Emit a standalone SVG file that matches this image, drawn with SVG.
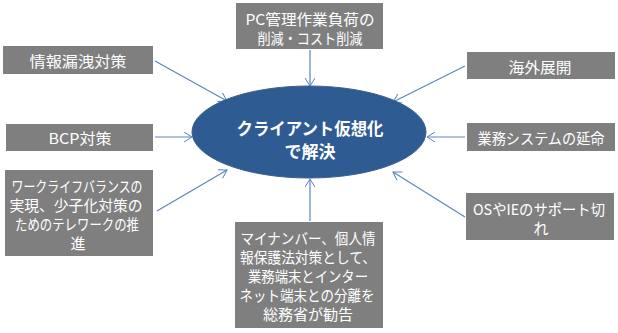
<svg xmlns="http://www.w3.org/2000/svg" width="618" height="333" viewBox="0 0 618 333">
<defs>
<marker id="ah" markerWidth="12" markerHeight="12" refX="9" refY="5" orient="auto" markerUnits="userSpaceOnUse">
<path d="M1,0 L9,5 L1,10" fill="none" stroke="#5a86c0" stroke-width="1"/>
</marker>
</defs>
<style>
.box{fill:#7f7f7f}
.t{fill:#ffffff;font-family:"Noto Sans CJK JP","Liberation Sans",sans-serif;font-size:15px;text-anchor:middle;dominant-baseline:central}
.et{fill:#ffffff;font-family:"Noto Sans CJK JP","Liberation Sans",sans-serif;font-size:17px;font-weight:bold;text-anchor:middle;dominant-baseline:central}
.c{stroke:#5a86c0;stroke-width:1.2;fill:none;marker-end:url(#ah)}
</style>
<rect width="618" height="333" fill="#ffffff"/>
<g id="connectors">
<line class="c" x1="310" y1="50" x2="310" y2="86"/>
<line class="c" x1="155" y1="61" x2="227" y2="101"/>
<line class="c" x1="155" y1="137" x2="192" y2="137"/>
<line class="c" x1="465" y1="66" x2="393" y2="102"/>
<line class="c" x1="465" y1="137" x2="427" y2="137"/>
<line class="c" x1="157" y1="211" x2="227" y2="170"/>
<line class="c" x1="310" y1="221" x2="310" y2="179"/>
<line class="c" x1="465" y1="217" x2="393" y2="172"/>
</g>
<g id="center">
<ellipse cx="309" cy="132" rx="117" ry="46" fill="#2f5b93" stroke="#3a5f8c" stroke-width="1"/>
<text class="et" x="310" y="127" textLength="147" lengthAdjust="spacingAndGlyphs">クライアント仮想化</text>
<text class="et" x="310" y="150">で解決</text>
</g>
<g id="pc">
<rect class="box" x="236" y="3" width="147" height="46"/>
<text class="t" x="310" y="18" textLength="129" lengthAdjust="spacingAndGlyphs">PC管理作業負荷の</text>
<text class="t" x="310" y="37" textLength="105" lengthAdjust="spacingAndGlyphs">削減・コスト削減</text>
</g>
<g id="joho">
<rect class="box" x="3" y="46" width="150" height="28"/>
<text class="t" x="78" y="60" textLength="97" lengthAdjust="spacingAndGlyphs">情報漏洩対策</text>
</g>
<g id="bcp">
<rect class="box" x="6" y="124" width="147" height="27"/>
<text class="t" x="80" y="137" textLength="63" lengthAdjust="spacingAndGlyphs">BCP対策</text>
</g>
<g id="kaigai">
<rect class="box" x="467" y="52" width="148" height="27"/>
<text class="t" x="540" y="66" textLength="63" lengthAdjust="spacingAndGlyphs">海外展開</text>
</g>
<g id="gyomu">
<rect class="box" x="467" y="123" width="148" height="28"/>
<text class="t" x="541" y="137" textLength="127" lengthAdjust="spacingAndGlyphs">業務システムの延命</text>
</g>
<g id="worklife">
<rect class="box" x="5" y="170" width="148" height="86"/>
<text class="t" x="77" y="185" textLength="131" lengthAdjust="spacingAndGlyphs">ワークライフバランスの</text>
<text class="t" x="76" y="204" textLength="133" lengthAdjust="spacingAndGlyphs">実現、少子化対策の</text>
<text class="t" x="77" y="223" textLength="124" lengthAdjust="spacingAndGlyphs">ためのテレワークの推</text>
<text class="t" x="78" y="242">進</text>
</g>
<g id="mynumber">
<rect class="box" x="235" y="222" width="148" height="106"/>
<text class="t" x="308" y="237" textLength="135" lengthAdjust="spacingAndGlyphs">マイナンバー、個人情</text>
<text class="t" x="308" y="256" textLength="136" lengthAdjust="spacingAndGlyphs">報保護法対策として、</text>
<text class="t" x="308" y="275" textLength="120" lengthAdjust="spacingAndGlyphs">業務端末とインター</text>
<text class="t" x="307" y="294" textLength="135" lengthAdjust="spacingAndGlyphs">ネット端末との分離を</text>
<text class="t" x="308" y="313" textLength="90" lengthAdjust="spacingAndGlyphs">総務省が勧告</text>
</g>
<g id="os">
<rect class="box" x="466" y="193" width="148" height="47"/>
<text class="t" x="539" y="208" textLength="132" lengthAdjust="spacingAndGlyphs">OSやIEのサポート切</text>
<text class="t" x="541" y="227">れ</text>
</g>
</svg>
